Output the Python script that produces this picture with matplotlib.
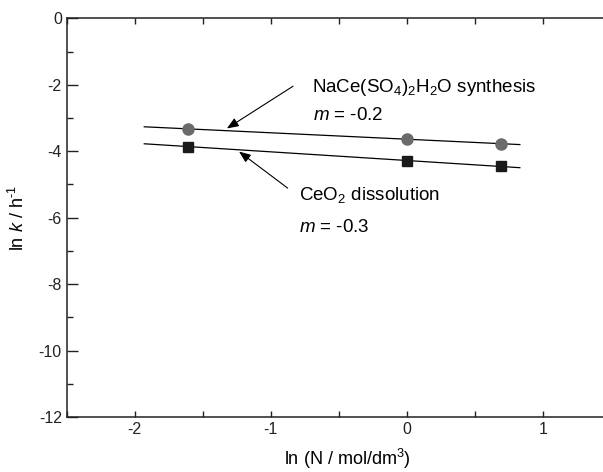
import numpy as np
import matplotlib
matplotlib.use("Agg")
import matplotlib.pyplot as plt
from matplotlib.ticker import MultipleLocator

plt.rcParams['font.family'] = ['Liberation Sans', 'DejaVu Sans']
plt.rcParams['mathtext.fontset'] = 'custom'
plt.rcParams['mathtext.rm'] = 'Liberation Sans'
plt.rcParams['mathtext.it'] = 'Liberation Sans:italic'
plt.rcParams['axes.unicode_minus'] = False

# ln of concentration (0.2, 1, 2 mol/dm3)
ln_n = [-1.609, 0.0, 0.693]
synthesis_lnk = [-3.33, -3.63, -3.78]
dissolution_lnk = [-3.86, -4.28, -4.46]

fig = plt.figure(figsize=(6.03, 4.72), dpi=100)
ax = fig.add_axes([0.1106, 0.1165, 0.9027, 0.8447])

# fitted lines
xfit = np.array([-1.93, 0.83])
for yy in (synthesis_lnk, dissolution_lnk):
    p = np.polyfit(ln_n, yy, 1)
    ax.plot(xfit, np.polyval(p, xfit), color='black', lw=0.9, zorder=2)

ax.plot(ln_n, synthesis_lnk, 'o', color='#6b6b6b', ms=8, zorder=3)
ax.plot(ln_n, dissolution_lnk, 's', color='#1a1a1a', ms=7, zorder=3)

ax.set_xlim(-2.5, 1.5)
ax.set_ylim(-12, 0)
ax.xaxis.set_major_locator(MultipleLocator(1))
ax.xaxis.set_minor_locator(MultipleLocator(0.5))
ax.yaxis.set_major_locator(MultipleLocator(2))
ax.yaxis.set_minor_locator(MultipleLocator(1))
ax.tick_params(which='major', direction='out', length=8, width=1, labelsize=11.5, colors='#222222')
ax.tick_params(which='minor', direction='in', length=4, width=1, colors='#222222')
ax.tick_params(top=True, which='both', direction='in')
ax.tick_params(axis='x', which='major', top=True, length=4)
for s in ax.spines.values():
    s.set_linewidth(1.1)
    s.set_color('#222222')

ax.set_xlabel(r'ln (N / mol/dm$^3$)', fontsize=13)
ax.set_ylabel(r'ln $k$ / h$^{\text{-}1}$', fontsize=13)
ax.xaxis.set_label_coords(0.516, -0.075)
ax.yaxis.set_label_coords(-0.072, 0.5)

arrow = dict(arrowstyle='-|>,head_length=0.5,head_width=0.2', color='black', lw=0.8, mutation_scale=14)
ax.annotate('', xy=(-1.34, -3.36), xytext=(-0.82, -2.0), arrowprops=arrow)
ax.annotate('', xy=(-1.25, -3.96), xytext=(-0.86, -5.16), arrowprops=arrow)

ax.text(-0.70, -2.22, r'NaCe(SO$_4$)$_2$H$_2$O synthesis', fontsize=13.5, va='baseline')
ax.text(-0.69, -3.06, r'$m$ = -0.2', fontsize=13.5, va='baseline')
ax.text(-0.79, -5.47, r'CeO$_2$ dissolution', fontsize=13.5, va='baseline')
ax.text(-0.79, -6.43, r'$m$ = -0.3', fontsize=13.5, va='baseline')

fig.savefig('out.png', dpi=100)
